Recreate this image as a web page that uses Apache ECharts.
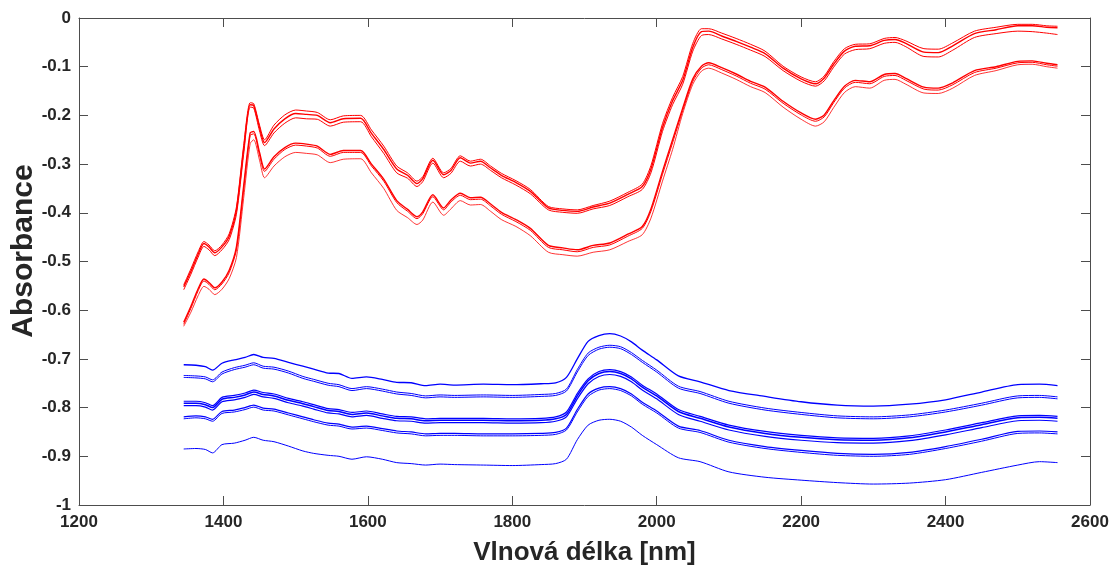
<!DOCTYPE html>
<html>
<head>
<meta charset="utf-8">
<script src="https://cdn.jsdelivr.net/npm/echarts@6/dist/echarts.min.js"></script>
<style>
  html, body { margin: 0; padding: 0; background: #fff; }
  #chart { width: 1114px; height: 567px; }
</style>
</head>
<body>
<div id="chart"></div>
<script>
// vlnové délky (nm) - červená spektra
const wlRed = [1345,1355,1365,1373,1380,1388,1398,1408,1418,1428,
  1437,1442,1450,1457,1470,1485,1500,1515,1530,1548,
  1566,1590,1605,1622,1640,1655,1668,1676,1690,1705,
  1715,1728,1742,1756,1770,1785,1805,1825,1850,1870,
  1890,1912,1935,1960,1980,1992,2008,2022,2036,2050,
  2062,2072,2090,2110,2130,2150,2175,2200,2220,2232,
  2245,2260,2275,2295,2315,2330,2345,2370,2390,2410,
  2440,2470,2500,2520,2540,2555];

// horní svazek červených spekter
const redUp1 = [-0.548,-0.515,-0.480,-0.459,-0.466,-0.478,-0.466,-0.443,-0.388,-0.262,
  -0.174,-0.176,-0.220,-0.250,-0.220,-0.199,-0.189,-0.191,-0.194,-0.209,
  -0.201,-0.200,-0.230,-0.263,-0.304,-0.318,-0.335,-0.326,-0.288,-0.318,
  -0.309,-0.283,-0.294,-0.290,-0.304,-0.319,-0.334,-0.352,-0.387,-0.392,
  -0.394,-0.385,-0.376,-0.358,-0.341,-0.303,-0.217,-0.163,-0.120,-0.052,
  -0.022,-0.022,-0.031,-0.042,-0.054,-0.068,-0.099,-0.121,-0.131,-0.119,
  -0.090,-0.063,-0.054,-0.053,-0.042,-0.040,-0.047,-0.063,-0.064,-0.051,
  -0.027,-0.019,-0.013,-0.013,-0.016,-0.017];
const redUp2 = [-0.552,-0.520,-0.485,-0.463,-0.470,-0.482,-0.470,-0.448,-0.395,-0.270,
  -0.178,-0.180,-0.225,-0.256,-0.228,-0.207,-0.196,-0.198,-0.200,-0.215,
  -0.207,-0.206,-0.237,-0.270,-0.310,-0.323,-0.340,-0.330,-0.292,-0.322,
  -0.313,-0.287,-0.298,-0.294,-0.308,-0.323,-0.338,-0.356,-0.390,-0.395,
  -0.397,-0.388,-0.380,-0.362,-0.346,-0.310,-0.225,-0.170,-0.128,-0.060,
  -0.028,-0.027,-0.037,-0.048,-0.060,-0.073,-0.103,-0.125,-0.135,-0.123,
  -0.095,-0.068,-0.058,-0.057,-0.046,-0.044,-0.052,-0.070,-0.071,-0.057,
  -0.032,-0.024,-0.016,-0.016,-0.019,-0.020];
const redUp3 = [-0.558,-0.526,-0.491,-0.469,-0.476,-0.488,-0.476,-0.455,-0.403,-0.280,
  -0.183,-0.185,-0.232,-0.262,-0.236,-0.216,-0.205,-0.207,-0.208,-0.222,
  -0.214,-0.213,-0.244,-0.278,-0.318,-0.329,-0.346,-0.336,-0.298,-0.328,
  -0.319,-0.294,-0.304,-0.300,-0.313,-0.328,-0.343,-0.361,-0.394,-0.399,
  -0.401,-0.392,-0.385,-0.367,-0.352,-0.318,-0.233,-0.178,-0.136,-0.068,
  -0.036,-0.034,-0.043,-0.054,-0.066,-0.079,-0.108,-0.130,-0.140,-0.129,
  -0.101,-0.074,-0.065,-0.063,-0.052,-0.050,-0.059,-0.079,-0.080,-0.066,
  -0.040,-0.032,-0.027,-0.028,-0.031,-0.034];

// dolní svazek červených spekter
const redLow1 = [-0.625,-0.592,-0.556,-0.536,-0.543,-0.554,-0.542,-0.518,-0.470,-0.345,
  -0.236,-0.233,-0.276,-0.310,-0.285,-0.266,-0.257,-0.259,-0.263,-0.280,
  -0.272,-0.272,-0.300,-0.331,-0.375,-0.393,-0.408,-0.398,-0.363,-0.390,
  -0.374,-0.360,-0.369,-0.368,-0.382,-0.399,-0.414,-0.432,-0.467,-0.472,
  -0.476,-0.467,-0.462,-0.444,-0.428,-0.392,-0.315,-0.250,-0.185,-0.125,
  -0.099,-0.092,-0.102,-0.115,-0.130,-0.142,-0.171,-0.195,-0.208,-0.199,
  -0.170,-0.140,-0.128,-0.131,-0.116,-0.114,-0.124,-0.142,-0.144,-0.133,
  -0.108,-0.100,-0.089,-0.088,-0.093,-0.096];
const redLow2 = [-0.629,-0.596,-0.560,-0.540,-0.547,-0.558,-0.546,-0.523,-0.476,-0.352,
  -0.241,-0.238,-0.281,-0.315,-0.290,-0.270,-0.261,-0.263,-0.267,-0.284,
  -0.276,-0.276,-0.304,-0.335,-0.379,-0.397,-0.412,-0.402,-0.367,-0.394,
  -0.378,-0.364,-0.373,-0.372,-0.386,-0.403,-0.418,-0.436,-0.471,-0.476,
  -0.480,-0.471,-0.466,-0.448,-0.432,-0.397,-0.321,-0.256,-0.190,-0.130,
  -0.103,-0.096,-0.106,-0.119,-0.134,-0.146,-0.175,-0.199,-0.212,-0.203,
  -0.174,-0.144,-0.132,-0.135,-0.120,-0.118,-0.128,-0.146,-0.148,-0.137,
  -0.112,-0.103,-0.092,-0.091,-0.096,-0.099];
const redLow3 = [-0.633,-0.604,-0.570,-0.551,-0.557,-0.568,-0.557,-0.535,-0.492,-0.370,
  -0.258,-0.250,-0.292,-0.328,-0.304,-0.285,-0.276,-0.278,-0.281,-0.297,
  -0.290,-0.289,-0.318,-0.350,-0.395,-0.410,-0.424,-0.415,-0.378,-0.405,
  -0.392,-0.375,-0.384,-0.383,-0.397,-0.414,-0.428,-0.447,-0.481,-0.486,
  -0.489,-0.481,-0.476,-0.459,-0.445,-0.411,-0.335,-0.270,-0.196,-0.136,
  -0.109,-0.103,-0.113,-0.126,-0.141,-0.153,-0.183,-0.208,-0.222,-0.213,
  -0.184,-0.153,-0.141,-0.144,-0.128,-0.126,-0.136,-0.154,-0.155,-0.144,
  -0.118,-0.108,-0.096,-0.095,-0.100,-0.103];

// vlnové délky (nm) - modrá spektra
const wlBlue = [1345,1362,1375,1385,1398,1415,1430,1442,1455,1470,
  1490,1510,1525,1545,1560,1578,1598,1620,1640,1660,
  1680,1700,1720,1760,1800,1840,1860,1875,1890,1905,
  1920,1935,1950,1965,1980,2000,2030,2060,2100,2150,
  2200,2250,2300,2350,2400,2450,2500,2530,2555];

const blueA = [-0.712,-0.713,-0.716,-0.723,-0.709,-0.702,-0.697,-0.691,-0.697,-0.699,
  -0.707,-0.715,-0.721,-0.729,-0.730,-0.740,-0.737,-0.742,-0.748,-0.749,
  -0.755,-0.752,-0.754,-0.752,-0.753,-0.751,-0.749,-0.738,-0.700,-0.664,
  -0.652,-0.648,-0.653,-0.665,-0.682,-0.702,-0.735,-0.747,-0.765,-0.777,
  -0.788,-0.795,-0.797,-0.793,-0.784,-0.768,-0.753,-0.752,-0.755];
const blueB1 = [-0.734,-0.735,-0.737,-0.743,-0.727,-0.718,-0.713,-0.708,-0.715,-0.717,
  -0.725,-0.736,-0.742,-0.750,-0.753,-0.761,-0.757,-0.762,-0.768,-0.771,
  -0.776,-0.774,-0.775,-0.774,-0.775,-0.773,-0.771,-0.762,-0.722,-0.688,
  -0.676,-0.672,-0.675,-0.687,-0.703,-0.723,-0.756,-0.767,-0.787,-0.801,
  -0.810,-0.817,-0.819,-0.815,-0.805,-0.791,-0.776,-0.775,-0.778];
const blueB2 = [-0.738,-0.739,-0.741,-0.747,-0.731,-0.722,-0.717,-0.712,-0.719,-0.721,
  -0.729,-0.740,-0.746,-0.754,-0.757,-0.765,-0.761,-0.766,-0.772,-0.775,
  -0.780,-0.778,-0.779,-0.778,-0.779,-0.777,-0.775,-0.766,-0.727,-0.693,
  -0.680,-0.676,-0.679,-0.691,-0.707,-0.727,-0.760,-0.771,-0.791,-0.805,
  -0.814,-0.821,-0.823,-0.819,-0.809,-0.795,-0.780,-0.779,-0.782];
const blueC1 = [-0.787,-0.787,-0.790,-0.796,-0.779,-0.775,-0.770,-0.764,-0.769,-0.772,
  -0.781,-0.788,-0.794,-0.802,-0.804,-0.810,-0.807,-0.813,-0.818,-0.819,
  -0.823,-0.822,-0.822,-0.822,-0.823,-0.822,-0.819,-0.809,-0.771,-0.741,
  -0.726,-0.722,-0.726,-0.737,-0.754,-0.772,-0.804,-0.818,-0.836,-0.849,
  -0.857,-0.862,-0.863,-0.858,-0.846,-0.831,-0.817,-0.816,-0.818];
const blueC2 = [-0.791,-0.791,-0.794,-0.800,-0.783,-0.779,-0.774,-0.768,-0.773,-0.776,
  -0.785,-0.792,-0.798,-0.806,-0.808,-0.814,-0.811,-0.817,-0.822,-0.823,
  -0.827,-0.826,-0.826,-0.826,-0.827,-0.826,-0.823,-0.814,-0.776,-0.745,
  -0.730,-0.726,-0.730,-0.741,-0.758,-0.776,-0.808,-0.822,-0.840,-0.853,
  -0.861,-0.866,-0.867,-0.862,-0.850,-0.835,-0.821,-0.820,-0.822];
const blueC3 = [-0.796,-0.796,-0.799,-0.805,-0.788,-0.784,-0.779,-0.773,-0.778,-0.781,
  -0.790,-0.797,-0.803,-0.811,-0.813,-0.819,-0.816,-0.822,-0.827,-0.828,
  -0.832,-0.831,-0.831,-0.831,-0.832,-0.831,-0.828,-0.819,-0.782,-0.751,
  -0.736,-0.732,-0.736,-0.747,-0.764,-0.782,-0.814,-0.828,-0.846,-0.859,
  -0.867,-0.872,-0.873,-0.868,-0.856,-0.841,-0.827,-0.826,-0.828];
const blueD1 = [-0.819,-0.817,-0.819,-0.824,-0.808,-0.805,-0.800,-0.795,-0.801,-0.803,
  -0.811,-0.819,-0.825,-0.832,-0.834,-0.840,-0.838,-0.843,-0.848,-0.850,
  -0.854,-0.853,-0.853,-0.854,-0.854,-0.853,-0.851,-0.842,-0.804,-0.772,
  -0.760,-0.757,-0.761,-0.772,-0.789,-0.807,-0.838,-0.847,-0.867,-0.880,
  -0.888,-0.894,-0.896,-0.892,-0.880,-0.865,-0.849,-0.848,-0.850];
const blueD2 = [-0.823,-0.821,-0.823,-0.828,-0.812,-0.809,-0.804,-0.799,-0.805,-0.807,
  -0.815,-0.823,-0.829,-0.836,-0.838,-0.844,-0.842,-0.847,-0.852,-0.854,
  -0.858,-0.857,-0.857,-0.858,-0.858,-0.857,-0.855,-0.846,-0.809,-0.777,
  -0.764,-0.761,-0.765,-0.776,-0.793,-0.811,-0.842,-0.851,-0.871,-0.884,
  -0.892,-0.898,-0.900,-0.896,-0.884,-0.869,-0.853,-0.852,-0.854];
const blueE = [-0.885,-0.884,-0.886,-0.893,-0.876,-0.873,-0.867,-0.861,-0.867,-0.870,
  -0.879,-0.889,-0.894,-0.898,-0.900,-0.906,-0.901,-0.906,-0.913,-0.915,
  -0.918,-0.916,-0.917,-0.918,-0.919,-0.917,-0.915,-0.906,-0.866,-0.836,
  -0.826,-0.824,-0.828,-0.840,-0.857,-0.876,-0.903,-0.911,-0.932,-0.943,
  -0.949,-0.954,-0.957,-0.955,-0.948,-0.933,-0.918,-0.911,-0.913];

const xTicks = { min: 1200, max: 2600, step: 200 };
const yTicks = { min: -1, max: 0, step: 0.1 };

const FONT = '"Liberation Sans", Arial, sans-serif';
const AXIS_COLOR = '#4d4d4d';
const TEXT_COLOR = '#262626';

function makeLine(wl, values, color, width) {
  return {
    type: 'line',
    data: wl.map((w, i) => [w, values[i]]),
    showSymbol: false,
    silent: true,
    smooth: 0.25,
    lineStyle: { color: color, width: width },
    z: 3
  };
}

const redSeries = [
  makeLine(wlRed, redUp1, '#ff0000', 1),
  makeLine(wlRed, redUp2, '#ff0000', 1.4),
  makeLine(wlRed, redUp3, '#ff0000', 1),
  makeLine(wlRed, redLow1, '#ff0000', 1.4),
  makeLine(wlRed, redLow2, '#ff0000', 1),
  makeLine(wlRed, redLow3, '#ff0000', 0.8)
];
const blueSeries = [
  makeLine(wlBlue, blueA, '#0000ff', 1.3),
  makeLine(wlBlue, blueB1, '#0000ff', 1),
  makeLine(wlBlue, blueB2, '#0000ff', 1),
  makeLine(wlBlue, blueC1, '#0000ff', 1.2),
  makeLine(wlBlue, blueC2, '#0000ff', 1.5),
  makeLine(wlBlue, blueC3, '#0000ff', 1.2),
  makeLine(wlBlue, blueD1, '#0000ff', 1.2),
  makeLine(wlBlue, blueD2, '#0000ff', 1),
  makeLine(wlBlue, blueE, '#0000ff', 1)
];

const chart = echarts.init(document.getElementById('chart'));

const tickStyle = { show: true, inside: true, length: 9, lineStyle: { color: AXIS_COLOR, width: 1 } };
const lineStyleAxis = { show: true, onZero: false, lineStyle: { color: AXIS_COLOR, width: 1 } };
const labelStyle = { color: TEXT_COLOR, fontFamily: FONT, fontWeight: 'bold', fontSize: 17 };

chart.setOption({
  animation: false,
  backgroundColor: '#fff',
  grid: { left: 79, right: 24, top: 18, bottom: 62, containLabel: false, outerBoundsMode: 'none' },
  // popisek osy y (otočený)
  graphic: [{
    type: 'text', x: 24, y: 251, rotation: Math.PI / 2, silent: true,
    style: {
      text: 'Absorbance', fill: TEXT_COLOR, fontFamily: FONT, fontWeight: 'bold', fontSize: 30,
      align: 'center', verticalAlign: 'middle'
    }
  }],
  xAxis: [
    {
      type: 'value', position: 'bottom',
      min: xTicks.min, max: xTicks.max, interval: xTicks.step,
      name: 'Vlnová délka [nm]', nameLocation: 'middle', nameGap: 35,
      nameTextStyle: { color: TEXT_COLOR, fontFamily: FONT, fontWeight: 'bold', fontSize: 26 },
      axisLine: lineStyleAxis, axisTick: tickStyle,
      axisLabel: Object.assign({ margin: 9, formatter: v => String(v) }, labelStyle),
      splitLine: { show: false }
    },
    {
      type: 'value', position: 'top',
      min: xTicks.min, max: xTicks.max, interval: xTicks.step,
      axisLine: lineStyleAxis, axisTick: tickStyle,
      axisLabel: { show: false }, splitLine: { show: false }
    }
  ],
  yAxis: [
    {
      type: 'value', position: 'left',
      min: yTicks.min, max: yTicks.max, interval: yTicks.step,
      axisLine: lineStyleAxis, axisTick: tickStyle,
      axisLabel: Object.assign({ margin: 8, formatter: v => String(Math.round(v * 10) / 10) }, labelStyle),
      splitLine: { show: false }
    },
    {
      type: 'value', position: 'right',
      min: yTicks.min, max: yTicks.max, interval: yTicks.step,
      axisLine: lineStyleAxis, axisTick: tickStyle,
      axisLabel: { show: false }, splitLine: { show: false }
    }
  ],
  series: redSeries.concat(blueSeries)
});
</script>
</body>
</html>
